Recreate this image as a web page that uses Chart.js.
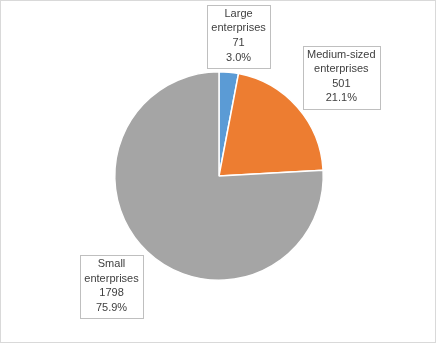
<!DOCTYPE html>
<html>
<head>
<meta charset="utf-8">
<script src="https://cdn.jsdelivr.net/npm/chart.js@4"></script>
<style>
  body { margin: 0; background: #fff; }
  canvas { display: block; }
</style>
</head>
<body>
<canvas id="sizeChart" width="436" height="343"></canvas>
<script>
// enterprises by size class
const categories = ['Large enterprises', 'Medium-sized enterprises', 'Small enterprises'];
const counts = [71, 501, 1798];
const sliceColors = ['#5B9BD5', '#ED7D31', '#A5A5A5'];

// where each data label box sits: angle nudge (deg) and distance in radii
const labelLayout = [
    { nudge: 2.6, dist: 1.35 },
    { nudge: 2.3, dist: 1.507 },
    { nudge: 0.6, dist: 1.483 }
];

const total = counts.reduce((a, b) => a + b, 0);

const labelBoxes = {
    id: 'labelBoxes',
    beforeDraw(chart) {
        const ctx = chart.ctx;
        ctx.save();
        ctx.fillStyle = '#fff';
        ctx.fillRect(0, 0, chart.width, chart.height);
        ctx.strokeStyle = '#D9D9D9';
        ctx.lineWidth = 1;
        ctx.strokeRect(0.5, 0.5, chart.width - 1, chart.height - 1);
        ctx.restore();
    },
    afterDatasetsDraw(chart) {
        const ctx = chart.ctx;
        const meta = chart.getDatasetMeta(0);
        const lineH = 14.6;
        ctx.save();
        ctx.font = '11px "Liberation Sans", Arial, sans-serif';
        ctx.textAlign = 'center';
        ctx.textBaseline = 'middle';
        meta.data.forEach((arc, i) => {
            const p = arc.getProps(['x', 'y', 'startAngle', 'endAngle', 'outerRadius'], true);
            const mid = (p.startAngle + p.endAngle) / 2 + labelLayout[i].nudge * Math.PI / 180;
            const d = p.outerRadius * labelLayout[i].dist;
            const cx = p.x + Math.cos(mid) * d;
            const cy = p.y + Math.sin(mid) * d;
            const lines = categories[i].split(' ');
            lines.push(String(counts[i]));
            lines.push((counts[i] / total * 100).toFixed(1) + '%');
            const w = Math.max(...lines.map(t => ctx.measureText(t).width)) + 9;
            const h = lines.length * lineH + 5;
            const bx = Math.round(cx - w / 2) + 0.5;
            const by = Math.round(cy - h / 2) + 0.5;
            ctx.fillStyle = '#fff';
            ctx.fillRect(bx, by, Math.round(w), Math.round(h));
            ctx.strokeStyle = '#BFBFBF';
            ctx.lineWidth = 1;
            ctx.strokeRect(bx, by, Math.round(w), Math.round(h));
            ctx.fillStyle = '#404040';
            lines.forEach((t, j) => {
                ctx.fillText(t, cx, cy - (lines.length - 1) * lineH / 2 + j * lineH - 1);
            });
        });
        ctx.restore();
    }
};

new Chart(document.getElementById('sizeChart'), {
    type: 'pie',
    data: {
        labels: categories,
        datasets: [{
            data: counts,
            backgroundColor: sliceColors,
            borderColor: '#fff',
            borderWidth: 1.5
        }]
    },
    options: {
        responsive: false,
        animation: false,
        layout: { padding: { top: 71, bottom: 62, left: 114, right: 112 } },
        plugins: {
            legend: { display: false },
            tooltip: { enabled: false }
        }
    },
    plugins: [labelBoxes]
});
</script>
</body>
</html>
